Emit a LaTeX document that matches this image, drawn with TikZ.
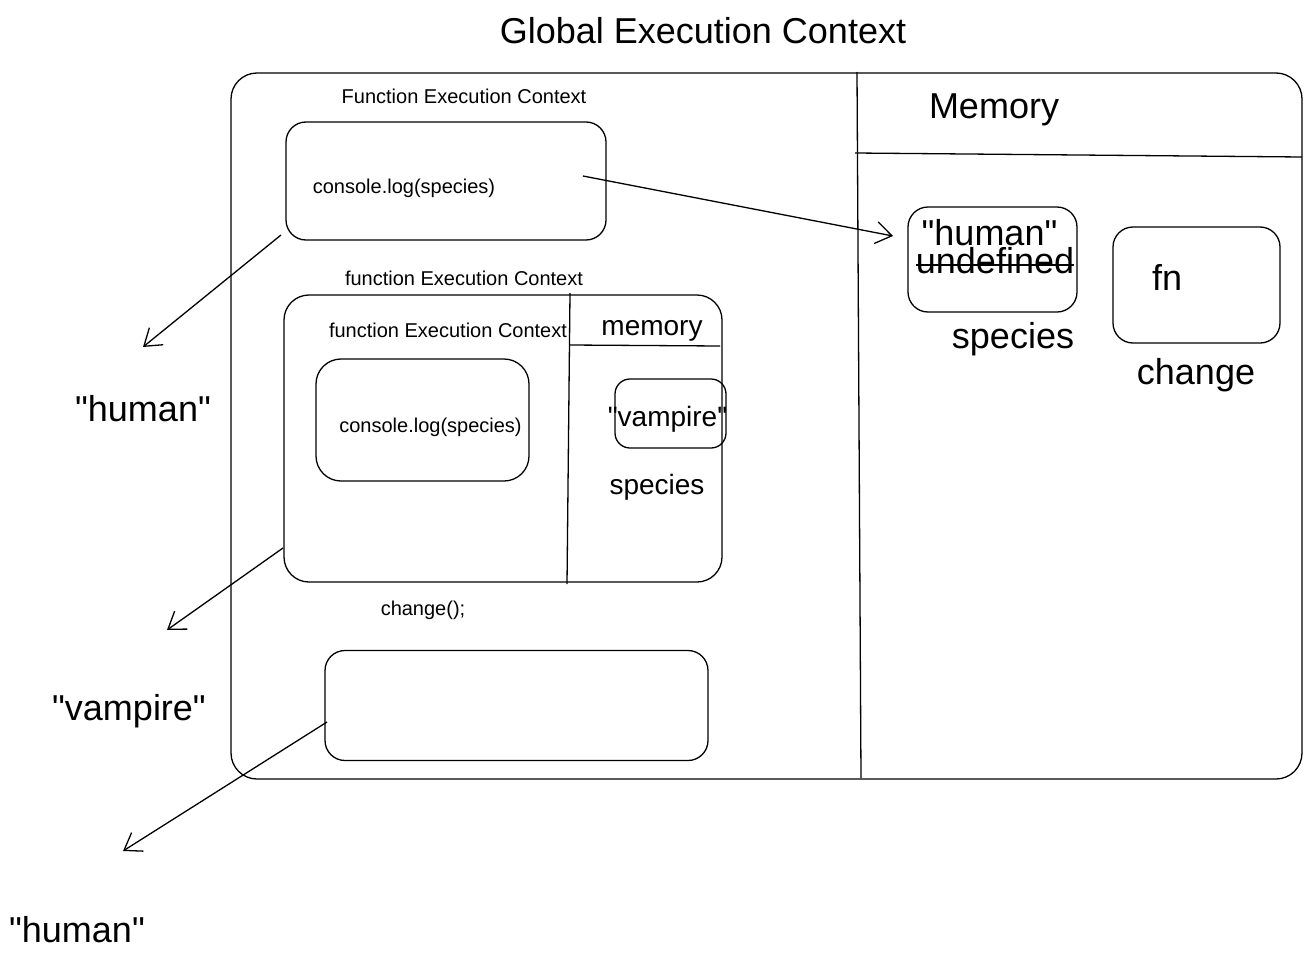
\documentclass[tikz,border=0pt]{standalone}
\usepackage{fontspec}
\setmainfont{Liberation Sans}[Ligatures=TeXOff]
\usetikzlibrary{arrows.meta}
\begin{document}
\begin{tikzpicture}[x=1pt,y=-1pt,
  box/.style={draw, line width=1.3pt, rounded corners=#1, inner sep=0pt, anchor=center},
  bigtxt/.style={font=\fontsize{36}{40}\selectfont, inner sep=0pt, anchor=base},
  medtxt/.style={font=\fontsize{28}{32}\selectfont, inner sep=0pt, anchor=base},
  smalltxt/.style={font=\fontsize{20}{24}\selectfont, inner sep=0pt, anchor=base},
  conn/.style={draw, line width=1.3pt, -{Straight Barb[length=16pt,width=22pt,line width=1.3pt]}},
  ln/.style={draw, line width=1.3pt}]
\useasboundingbox (0,0) rectangle (1311,958);

% title
\node[bigtxt] (title) at (703,44) {Global Execution Context};

% outer box
\node[box=26pt, minimum width=1071pt, minimum height=706pt] (outer) at (766.5,426) {};
\coordinate (memtop) at (857,72);
\coordinate (membot) at (861,778);
\draw[ln] (memtop) -- (membot);
\coordinate (mhl) at (855,153);
\coordinate (mhr) at (1302,157);
\draw[ln] (mhl) -- (mhr);
\node[bigtxt] (memory) at (994,118) {Memory};

% memory items
\node[box=20pt, minimum width=169pt, minimum height=105pt] (humanbox) at (992.5,259.5) {};
\node[bigtxt] (human) at (989.5,245) {"human"};
\node[bigtxt] (undef) at (995,273) {undefined};
\draw[line width=1.3pt] (undef.west |- 0,265) coordinate (sl) -- (undef.east |- 0,265) coordinate (sr);
\node[bigtxt] (species) at (1013,348) {species};
\node[box=20pt, minimum width=167pt, minimum height=116pt] (fnbox) at (1196.5,285) {};
\node[bigtxt] (fn) at (1167,290) {fn};
\node[bigtxt] (change) at (1196,384) {change};

% first function execution context
\node[smalltxt] (fec1) at (464,103) {Function Execution Context};
\node[box=20pt, minimum width=320pt, minimum height=118pt] (boxA) at (446,181) {};
\node[smalltxt] (logA) at (404,193) {console.log(species)};

% second function execution context
\node[smalltxt] (fec2) at (464,285) {function Execution Context};
\node[box=25pt, minimum width=438pt, minimum height=287pt] (boxB) at (503,438.5) {};
\coordinate (bvt) at (570,293);
\coordinate (bvb) at (567,584);
\draw[ln] (bvt) -- (bvb);
\coordinate (bhl) at (570,345);
\coordinate (bhr) at (720,346);
\draw[ln] (bhl) -- (bhr);
\node[smalltxt] (fec3) at (448,337) {function Execution Context};
\node[medtxt] (mem2) at (652,335) {memory};
\node[box=25pt, minimum width=213pt, minimum height=122pt] (boxC) at (422.5,420) {};
\node[smalltxt] (logC) at (430.5,432) {console.log(species)};
\node[box=15pt, minimum width=111pt, minimum height=69pt] (vbox) at (670.5,413.5) {};
\node[medtxt] (vamp) at (667.5,426) {"vampire"};
\node[medtxt] (species2) at (657,494) {species};

% change()
\node[smalltxt] (callc) at (423,615) {change();};
\node[box=20pt, minimum width=383pt, minimum height=110pt] (boxD) at (516.5,705.5) {};

% outputs
\node[bigtxt] (out1) at (143,421) {"human"};
\node[bigtxt] (out2) at (129,720) {"vampire"};
\node[bigtxt] (out3) at (77,942) {"human"};

% arrows
\coordinate (a1s) at (583,176);
\coordinate (a1e) at (893,236);
\draw[conn] (a1s) -- (a1e);
\coordinate (a2s) at (281,235);
\coordinate (a2e) at (143,347);
\draw[conn] (a2s) -- (a2e);
\coordinate (a3s) at (283,548);
\coordinate (a3e) at (167,630);
\draw[conn] (a3s) -- (a3e);
\coordinate (a4s) at (327,722);
\coordinate (a4e) at (123,851);
\draw[conn] (a4s) -- (a4e);
\end{tikzpicture}
\end{document}
